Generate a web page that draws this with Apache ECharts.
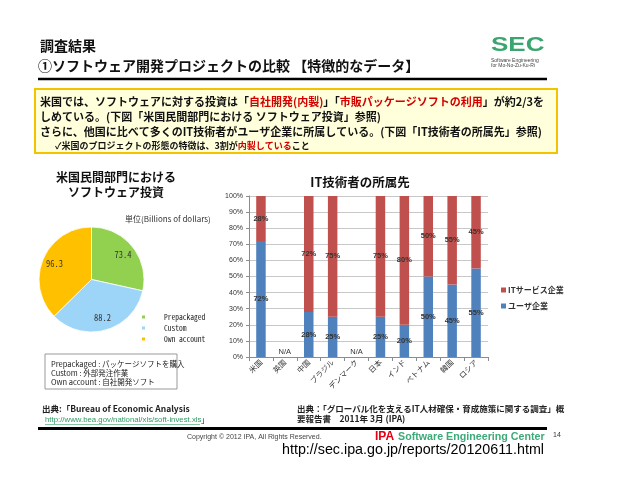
<!DOCTYPE html>
<html><head><meta charset="utf-8">
<script src="https://cdn.jsdelivr.net/npm/echarts/dist/echarts.min.js"></script>
<style>html,body{margin:0;padding:0;background:#fff}#c{width:638px;height:493px}</style>
</head><body><div id="c"></div>
<script>
// ---- data ----
const pieNames = ['Prepackaged', 'Custom', 'Own account'];
const pieValues = [73.4, 88.2, 96.3];
const pieColors = ['#92D050', '#9DD5F8', '#FFC000'];
const countries = ['米国', '英国', '中国', 'ブラジル', 'デンマーク', '日本', 'インド', 'ベトナム', '韓国', 'ロシア'];
const userShare = [72, null, 28, 25, null, 25, 20, 50, 45, 55];
const serviceShare = [28, null, 72, 75, null, 75, 80, 50, 55, 45];
const barNames = ['ITサービス企業', 'ユーザ企業'];
const yTickStep = 10;

const JP = '"Noto Sans CJK JP", sans-serif';
const MONO = '"Noto Sans Mono CJK JP", "DejaVu Sans Mono", monospace';
const ARIAL = '"Liberation Sans", Arial, sans-serif';

const naData = userShare.map(v => (v == null ? 0 : '-'));

function txt(x, y, text, o) {
  o = o || {};
  return {
    type: 'text', x: x, y: y, z: 10,
    scaleX: o.scaleX || 1,
    style: Object.assign({
      text: text, fill: o.color || '#111',
      fontSize: o.size || 10, fontWeight: o.bold ? 'bold' : 'normal',
      fontFamily: o.family || JP,
      align: o.align || 'left', verticalAlign: 'middle'
    }, o.rich ? { rich: o.rich } : {})
  };
}
const RED = '#D40000';
const redRich = (s) => ({ r: { fill: RED, fontSize: s, fontWeight: 'bold', fontFamily: JP } });

const chart = echarts.init(document.getElementById('c'));
chart.setOption({
  animation: false,
  backgroundColor: '#fff',
  legend: [
    {
      data: pieNames, orient: 'vertical', left: 135, top: 308,
      itemWidth: 5, itemHeight: 5, itemGap: 3, icon: 'rect',
      selectedMode: false,
      textStyle: { fontFamily: MONO, fontSize: 7.5, color: '#222', lineHeight: 8, padding: [0, 0, 0, 13] }
    },
    {
      data: barNames, orient: 'vertical', left: 496, top: 281,
      itemWidth: 5, itemHeight: 5, itemGap: 8, icon: 'rect',
      selectedMode: false,
      textStyle: { fontFamily: JP, fontSize: 8, fontWeight: 'bold', color: '#333', padding: [0, 0, 0, -3] }
    }
  ],
  grid: { left: 249, top: 196, width: 239, height: 161, containLabel: false },
  xAxis: {
    type: 'category', data: countries,
    axisLine: { lineStyle: { color: '#8C8C8C' } },
    axisTick: { show: true, length: 4, lineStyle: { color: '#8C8C8C' } },
    axisLabel: { interval: 0, rotate: 45, fontSize: 7.5, color: '#333', margin: 4, fontFamily: JP }
  },
  yAxis: {
    type: 'value', min: 0, max: 100, interval: yTickStep,
    axisLine: { show: true, lineStyle: { color: '#8C8C8C' } },
    axisTick: { show: true, length: 3, lineStyle: { color: '#8C8C8C' } },
    axisLabel: { formatter: '{value}%', fontSize: 7, color: '#333', margin: 6, fontFamily: ARIAL },
    splitLine: { lineStyle: { color: '#C8C8C8' } }
  },
  series: [
    {
      type: 'pie', center: [91.5, 279.5], radius: [0, 52.5], startAngle: 90, clockwise: true,
      silent: true, legendHoverLink: false,
      data: pieNames.map((n, i) => ({ name: n, value: pieValues[i], itemStyle: { color: pieColors[i] } })),
      label: { show: false }, labelLine: { show: false },
      itemStyle: { borderColor: '#fff', borderWidth: 0.8 }
    },
    {
      type: 'pie', center: [91.5, 279.5], radius: [22, 52.5], startAngle: 90, clockwise: true,
      silent: true, legendHoverLink: false,
      data: pieNames.map((n, i) => ({ name: n + ' ', value: pieValues[i], itemStyle: { color: 'rgba(0,0,0,0)' } })),
      label: { show: true, position: 'inside', formatter: p => p.value.toFixed(1), fontSize: 8.5, fontFamily: MONO, color: '#333' },
      labelLine: { show: false }
    },
    {
      name: barNames[1], type: 'bar', stack: 'share', data: userShare, barWidth: 9.5,
      itemStyle: { color: '#4F81BD' },
      label: { show: true, position: 'inside', formatter: p => p.value + '%', fontSize: 7.5, fontWeight: 'bold', color: '#333', fontFamily: ARIAL }
    },
    {
      name: barNames[0], type: 'bar', stack: 'share', data: serviceShare, barWidth: 9.5,
      itemStyle: { color: '#C0504D' },
      label: { show: true, position: 'inside', formatter: p => p.value + '%', fontSize: 7.5, fontWeight: 'bold', color: '#333', fontFamily: ARIAL }
    },
    {
      name: 'na', type: 'bar', data: naData, barWidth: 9.5, barGap: '-100%',
      itemStyle: { color: 'rgba(0,0,0,0)' },
      label: { show: true, position: 'top', distance: 1, formatter: 'N/A', fontSize: 7.5, color: '#333', fontFamily: ARIAL }
    }
  ],
  graphic: [
    // header
    txt(40, 46, '調査結果', { size: 14, bold: true }),
    txt(38, 66, '①ソフトウェア開発プロジェクトの比較 【特徴的なデータ】', { size: 14, bold: true }),
    { type: 'text', x: 491, y: 45, scaleX: 1.3, style: { text: 'SEC', fill: '#3AA56E', fontSize: 20, fontWeight: 'bold', fontFamily: ARIAL, verticalAlign: 'middle' } },
    txt(491, 61, 'Software Engineering', { size: 5, family: ARIAL, color: '#444' }),
    txt(491, 66, 'for Mo-No-Zu-Ku-Ri', { size: 5, family: ARIAL, color: '#444' }),
    { type: 'line', shape: { x1: 38, y1: 79, x2: 547, y2: 79 }, style: { stroke: '#000', lineWidth: 2.5 } },
    // yellow box
    { type: 'rect', shape: { x: 35, y: 89, width: 522, height: 64 }, style: { fill: '#FFFFDC', stroke: '#F3C300', lineWidth: 2 } },
    txt(40, 102, '米国では、ソフトウェアに対する投資は「{r|自社開発(内製)}」「{r|市販パッケージソフトの利用}」が約2/3を', { size: 11, bold: true, rich: redRich(11) }),
    txt(40, 117, 'しめている。(下図「米国民間部門における ソフトウェア投資」参照)', { size: 11, bold: true }),
    txt(40, 132, 'さらに、他国に比べて多くのIT技術者がユーザ企業に所属している。(下図「IT技術者の所属先」参照)', { size: 11, bold: true }),
    txt(55, 146, '✓米国のプロジェクトの形態の特徴は、3割が{r|内製している}こと', { size: 9, bold: true, rich: redRich(9) }),
    // pie titles
    txt(116, 177, '米国民間部門における', { size: 12, bold: true, align: 'center' }),
    txt(116, 192, 'ソフトウェア投資', { size: 12, bold: true, align: 'center' }),
    txt(125, 219, '単位(Billions of dollars)', { size: 8, color: '#333' }),
    { type: 'rect', shape: { x: 45, y: 354, width: 132, height: 35 }, style: { fill: '#fff', stroke: '#999', lineWidth: 1 } },
    txt(51, 364, 'Prepackaged : パッケージソフトを購入', { size: 7.5, color: '#222' }),
    txt(51, 373, 'Custom : 外部発注作業', { size: 7.5, color: '#222' }),
    txt(51, 382, 'Own account : 自社開発ソフト', { size: 7.5, color: '#222' }),
    txt(42, 409, '出典:「Bureau of Economic Analysis', { size: 8.5, bold: true, color: '#222' }),
    txt(45, 420, 'http://www.bea.gov/national/xls/soft-invest.xls', { size: 7.8, color: '#2E9A62', family: ARIAL }),
    txt(201, 420, '」', { size: 8, color: '#222' }),
    { type: 'line', shape: { x1: 45, y1: 424.5, x2: 200, y2: 424.5 }, style: { stroke: '#2E9A62', lineWidth: 0.6 } },
    // bar chart title and source
    txt(360, 182, 'IT技術者の所属先', { size: 12.5, bold: true, align: 'center' }),
    txt(297, 409, '出典：「グローバル化を支えるIT人材確保・育成施策に関する調査」概', { size: 8.5, bold: true, color: '#222' }),
    txt(297, 419, '要報告書　2011年 3月 (IPA)', { size: 8.5, bold: true, color: '#222' }),
    // footer
    { type: 'line', shape: { x1: 38, y1: 428.5, x2: 547, y2: 428.5 }, style: { stroke: '#000', lineWidth: 3 } },
    txt(187, 437, 'Copyright © 2012 IPA, All Rights Reserved.', { size: 7, family: ARIAL, color: '#444' }),
    txt(375, 437, 'IPA', { size: 12, bold: true, family: ARIAL, color: '#E60012' }),
    txt(398, 437, 'Software Engineering Center', { size: 10.7, bold: true, family: ARIAL, color: '#3DAA78' }),
    txt(553, 435, '14', { size: 7, family: ARIAL, color: '#333' }),
    txt(282, 450, 'http://sec.ipa.go.jp/reports/20120611.html', { size: 14.3, family: ARIAL, color: '#000' })
  ]
});
</script>
</body></html>
